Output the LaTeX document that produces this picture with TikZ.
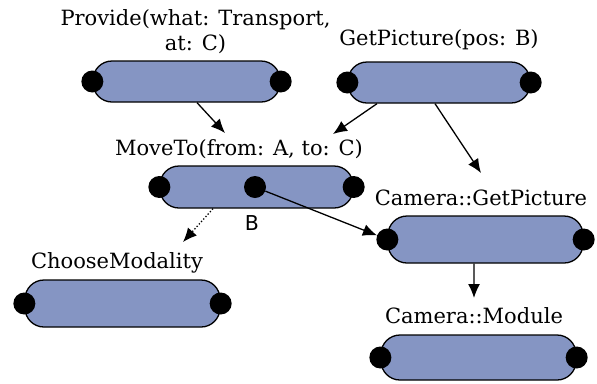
\documentclass[tikz,border=0pt]{standalone}
\usepackage{fontspec}
\setmainfont{DejaVu Serif}
\newfontfamily\labelsans{DejaVu Sans}
\usetikzlibrary{arrows.meta}
\definecolor{pillblue}{RGB}{133,149,195}
\tikzset{
  pill/.style={draw=black, line width=1.3bp, fill=pillblue, rounded corners=19bp,
               inner sep=0pt, minimum width=#1},
  port/.style={circle, fill=black, draw=none, minimum size=22bp, inner sep=0pt},
  title/.style={anchor=base, inner sep=0pt, font=\fontsize{21bp}{25bp}\selectfont},
  link/.style={line width=1.3bp, -{Latex[length=14bp,width=12bp]}},
  weak/.style={link, dash pattern=on 1.3bp off 2bp}
}
\begin{document}
\begin{tikzpicture}[x=1bp, y=-1bp]
\useasboundingbox (0,0) rectangle (597,383);

% action boxes
\node[pill=187bp, minimum height=41bp] (prov)   at (186.5,81.5) {};
\node[pill=182bp, minimum height=41bp] (getp)   at (439,82.5)   {};
\node[pill=193bp, minimum height=42bp] (move)   at (256.5,187)  {};
\node[pill=195bp, minimum height=47bp] (choose) at (122.5,303.5){};
\node[pill=195bp, minimum height=47bp] (camgp)  at (485.5,239.5){};
\node[pill=195bp, minimum height=45bp] (cammod) at (478.5,357.5){};

% titles (a multi-line title sits on the baseline of its last line)
\node[title, align=center] (provl) at (195.5,50) {Provide(what: Transport,\\at: C)};
\node[title] (getpl)   at (439,45)  {GetPicture(pos: B)};
\node[title] (movel)   at (239,155) {MoveTo(from: A, to: C)};
\node[title] (choosel) at (117,268) {ChooseModality};
\node[title] (camgpl)  at (481,205) {Camera::GetPicture};
\node[title] (cammodl) at (474,323) {Camera::Module};

% ports
\node[port] (provw) at (prov.west) {};
\node[port] (prove) at (prov.east) {};
\node[port] (getpw) at (getp.west) {};
\node[port] (getpe) at (getp.east) {};
\node[port] (movew) at (move.west) {};
\node[port] (movem) at ([xshift=-1.5bp]move.center) {};
\node[port] (movee) at (move.east) {};
\node[port] (choosew) at (choose.west) {};
\node[port] (choosee) at (choose.east) {};
\node[port] (camgpw) at (camgp.west) {};
\node[port] (camgpe) at (camgp.east) {};
\node[port] (cammodw) at (cammod.west) {};
\node[port] (cammode) at (cammod.east) {};

\node[anchor=base, inner sep=0pt, font=\labelsans\fontsize{20.5bp}{24bp}\selectfont] (bl) at (252,230) {B};

% connector end points
\coordinate (t1) at (225,133);
\coordinate (t2) at (333,134);
\coordinate (t3) at (481,173);
\coordinate (t4) at (183,242);
\coordinate (t5) at (474,298);

\draw[link] ([xshift=10.5bp]prov.south) -- (t1);
\draw[link] ([xshift=-62bp]getp.south) -- (t2);
\draw[link] ([xshift=-4bp]getp.south) -- (t3);
\draw[weak] ([xshift=-43.5bp]move.south) -- (t4);
\draw[link] (movem) -- (camgpw);
\draw[link] ([xshift=-11.5bp]camgp.south) -- (t5);
\end{tikzpicture}
\end{document}
